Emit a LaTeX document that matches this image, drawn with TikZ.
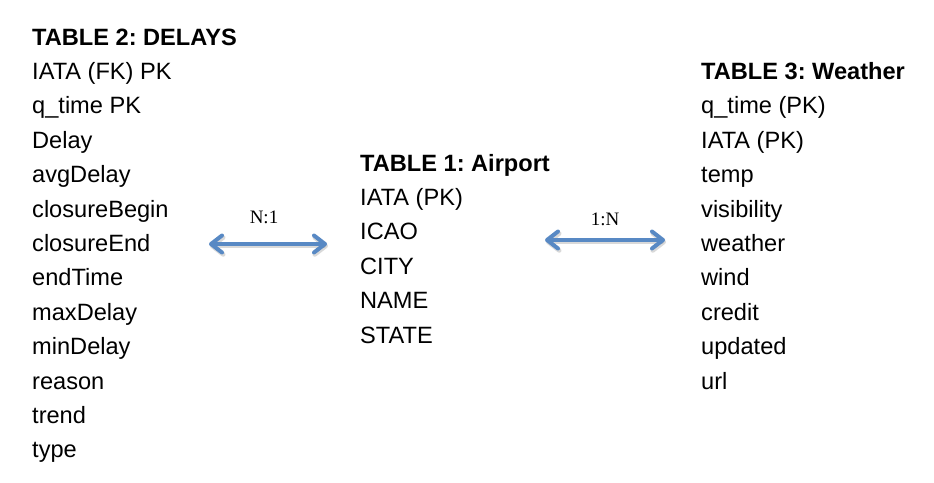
\documentclass[tikz,border=0pt]{standalone}
\usepackage{fontspec}
\setmainfont{Liberation Sans}
\newfontfamily\labelfont{Liberation Serif}
\usetikzlibrary{arrows.meta}
\frenchspacing

\definecolor{linkblue}{RGB}{88,137,196}

\tikzset{
  field/.style={anchor=base west, inner sep=0pt, font=\fontsize{23.6}{27}\selectfont},
  tabletitle/.style={field, font=\fontsize{23.6}{27}\selectfont\bfseries},
  link/.style={draw=linkblue, line width=4pt, line cap=round,
    {Straight Barb[length=11pt,width=17pt,round]}-{Straight Barb[length=11pt,width=17pt,round]}},
  linkshadow/.style={link, draw=black, opacity=.15, line width=4.5pt},
  cardinality/.style={anchor=base, inner sep=0pt, font=\labelfont\fontsize{19}{21}\selectfont}
}

\begin{document}
\begin{tikzpicture}[x=1pt,y=-1pt]
\useasboundingbox (0,0) rectangle (934,482);

% table 2: delays
\node[tabletitle] (delays) at (32,45) {TABLE 2: DELAYS};
\foreach \f [count=\i] in {IATA (FK) PK, q\_time PK, Delay, avgDelay, closureBegin,
  closureEnd, endTime, maxDelay, minDelay, reason, trend, type}
  \node[field] (delays\i) at (32,{45+34.4*\i}) {\f};

% table 1: airport
\node[tabletitle] (airport) at (360,171) {TABLE 1: Airport};
\foreach \f [count=\i] in {IATA (PK), ICAO, CITY, NAME, STATE}
  \node[field] (airport\i) at (360,{171+34.4*\i}) {\f};

% table 3: weather
\node[tabletitle] (weather) at (701,79.4) {TABLE 3: Weather};
\foreach \f [count=\i] in {q\_time (PK), IATA (PK), temp, visibility, weather,
  wind, credit, updated, url}
  \node[field] (weather\i) at (701,{79.4+34.4*\i}) {\f};

% links
\coordinate (dlA) at (209,244);
\coordinate (dlB) at (327,244);
\coordinate (wlA) at (545,240);
\coordinate (wlB) at (665,240);
\draw[linkshadow, transform canvas={shift={(1pt,-2pt)}}] (dlA) -- (dlB);
\draw[linkshadow, transform canvas={shift={(1pt,-2pt)}}] (wlA) -- (wlB);
\draw[link] (dlA) -- (dlB);
\draw[link] (wlA) -- (wlB);
\node[cardinality] (delayscard) at (264,223) {N:1};
\node[cardinality] (weathercard) at (605,225) {1:N};
\end{tikzpicture}
\end{document}
